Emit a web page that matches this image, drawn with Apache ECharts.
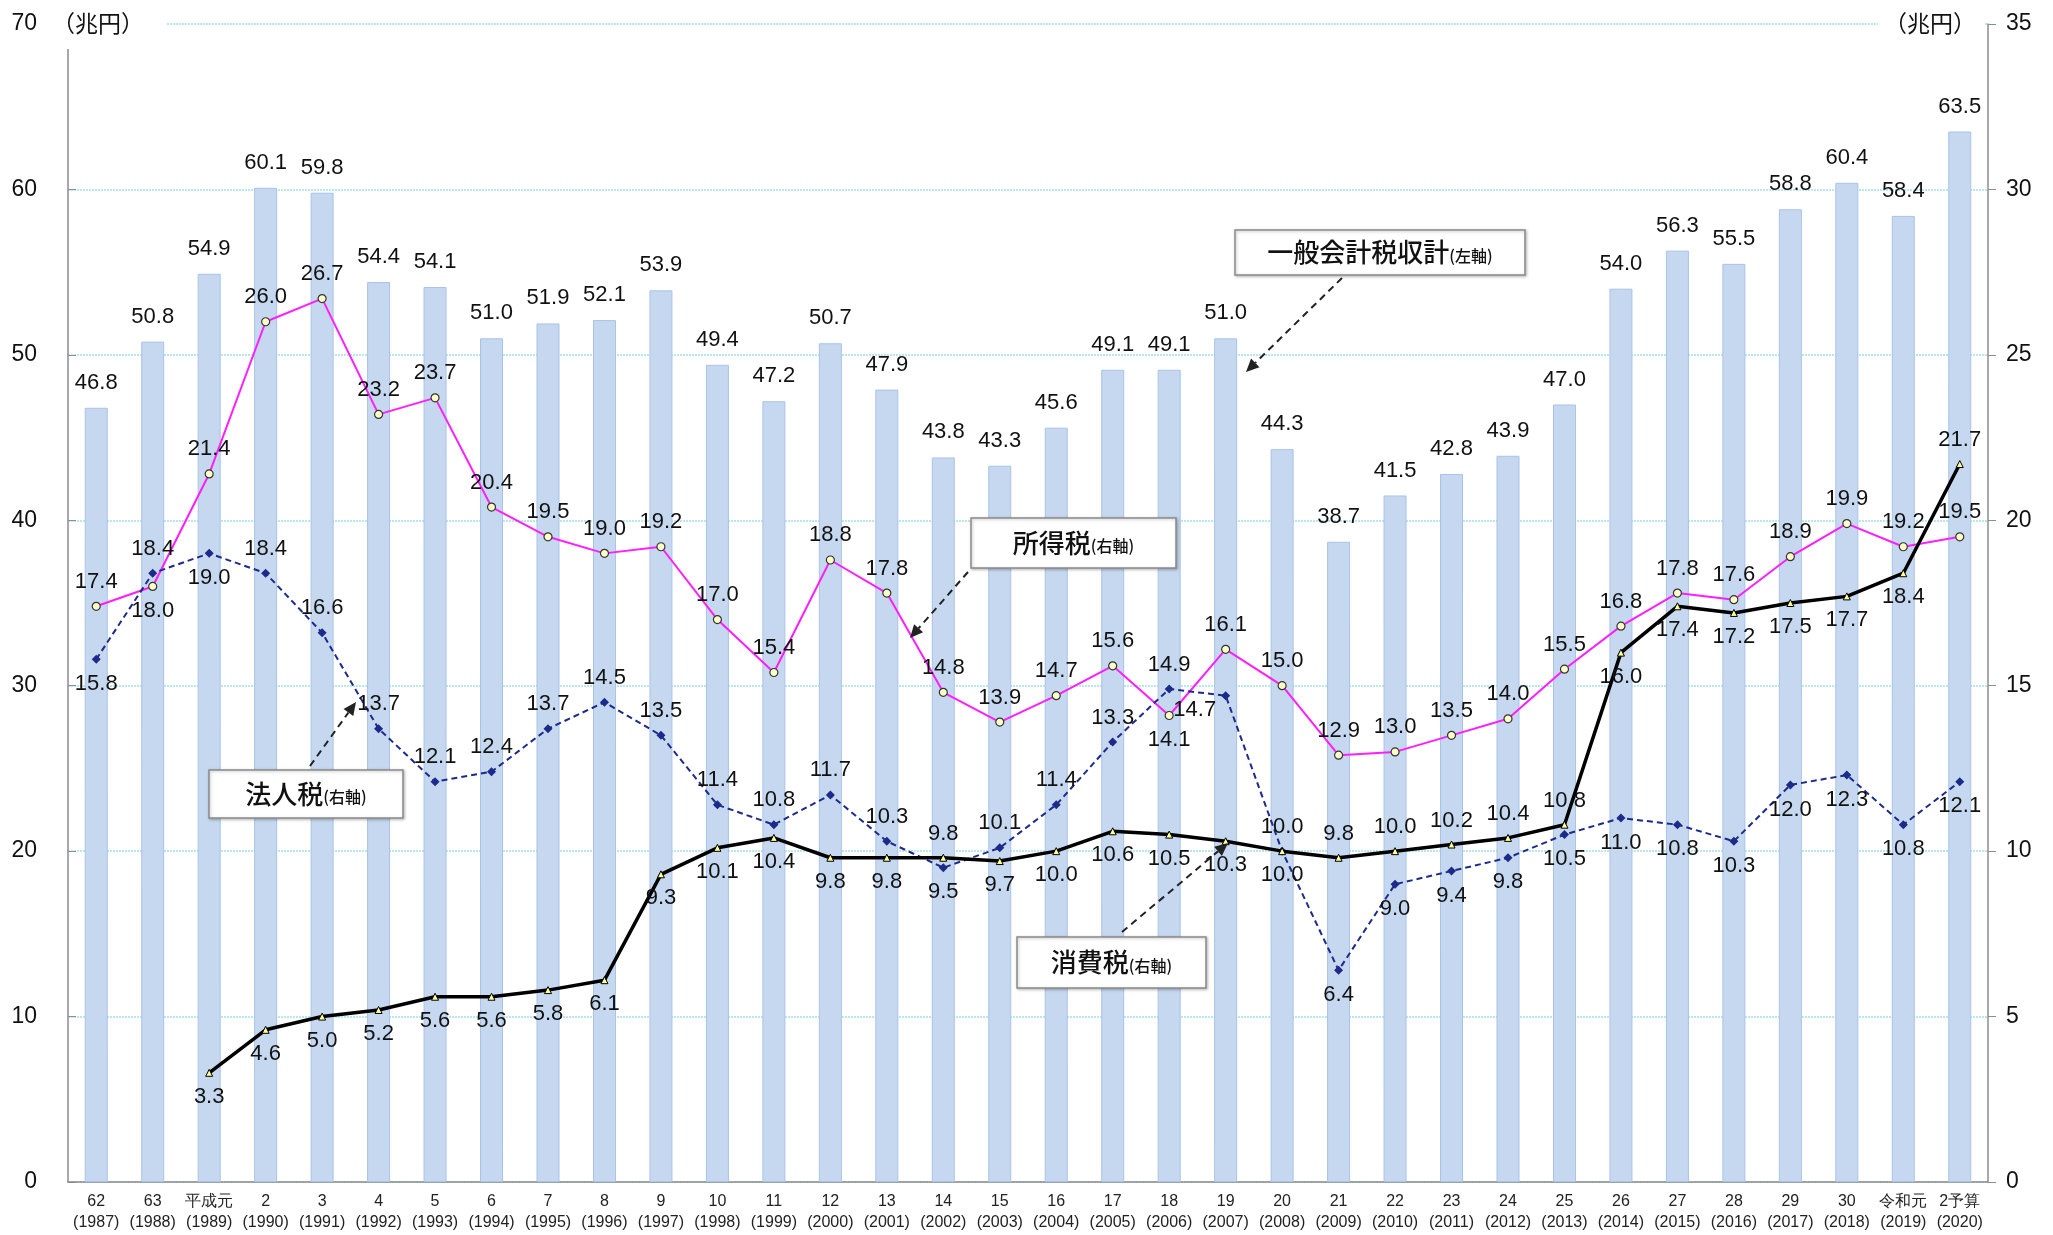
<!DOCTYPE html>
<html>
<head>
<meta charset="utf-8">
<script src="https://cdn.jsdelivr.net/npm/echarts@6/dist/echarts.min.js"></script>
<style>
html,body{margin:0;padding:0;background:#fff}
#main{width:2053px;height:1235px}
</style>
</head>
<body>
<div id="main"></div>
<script>
// 年度ラベル
var eraLabels = ['62','63','平成元','2','3','4','5','6','7','8','9','10','11','12','13','14','15','16','17','18','19','20','21','22','23','24','25','26','27','28','29','30','令和元','2予算'];
var yearLabels = ['1987','1988','1989','1990','1991','1992','1993','1994','1995','1996','1997','1998','1999','2000','2001','2002','2003','2004','2005','2006','2007','2008','2009','2010','2011','2012','2013','2014','2015','2016','2017','2018','2019','2020'];

// 一般会計税収計（左軸）
var totalTax = [46.8,50.8,54.9,60.1,59.8,54.4,54.1,51.0,51.9,52.1,53.9,49.4,47.2,50.7,47.9,43.8,43.3,45.6,49.1,49.1,51.0,44.3,38.7,41.5,42.8,43.9,47.0,54.0,56.3,55.5,58.8,60.4,58.4,63.5];
// 所得税（右軸）
var incomeTax = [17.4,18.0,21.4,26.0,26.7,23.2,23.7,20.4,19.5,19.0,19.2,17.0,15.4,18.8,17.8,14.8,13.9,14.7,15.6,14.1,16.1,15.0,12.9,13.0,13.5,14.0,15.5,16.8,17.8,17.6,18.9,19.9,19.2,19.5];
// 法人税（右軸）
var corpTax = [15.8,18.4,19.0,18.4,16.6,13.7,12.1,12.4,13.7,14.5,13.5,11.4,10.8,11.7,10.3,9.5,10.1,11.4,13.3,14.9,14.7,10.0,6.4,9.0,9.4,9.8,10.5,11.0,10.8,10.3,12.0,12.3,10.8,12.1];
// 消費税（右軸）
var consTax = [null,null,3.3,4.6,5.0,5.2,5.6,5.6,5.8,6.1,9.3,10.1,10.4,9.8,9.8,9.8,9.7,10.0,10.6,10.5,10.3,10.0,9.8,10.0,10.2,10.4,10.8,16.0,17.4,17.2,17.5,17.7,18.4,21.7];

// ラベル位置（見た目用）
var T = 'top', B = 'bottom', L = 'left';
var incomePos = [T,B,T,T,T,T,T,T,T,T,T,T,T,T,T,T,T,T,T,B,T,T,T,T,T,T,T,T,T,T,T,T,T,T];
var corpPos   = [B,T,B,T,T,T,T,T,T,T,T,T,T,T,T,B,T,T,T,T,L,T,B,B,B,B,B,B,B,B,B,B,B,B];
var consPos   = [B,B,B,B,B,B,B,B,B,B,B,B,B,B,B,T,B,B,B,B,B,B,T,T,T,T,T,B,B,B,B,B,B,T];

var numFont = '"Liberation Sans",Arial,sans-serif';
var jpFont = '"Noto Sans CJK JP",sans-serif';

function withPos(values, pos) {
  return values.map(function (v, i) {
    if (v == null) return null;
    var lab = { position: pos[i] };
    if (pos[i] === 'left') lab.offset = [4, 14];
    return { value: v, label: lab };
  });
}

function arrow(x1, y1, x2, y2) {
  var a = Math.atan2(y2 - y1, x2 - x1), len = 13, w = 6;
  var bx = x2 - len * Math.cos(a), by = y2 - len * Math.sin(a);
  return [
    { type: 'line', z: 50, shape: { x1: x1, y1: y1, x2: bx, y2: by }, style: { stroke: '#222', lineWidth: 2, lineDash: [7, 5] } },
    { type: 'polygon', z: 50, shape: { points: [[x2, y2], [bx + w * Math.sin(a), by - w * Math.cos(a)], [bx - w * Math.sin(a), by + w * Math.cos(a)]] }, style: { fill: '#222' } }
  ];
}

function box(x, y, w, h, main, sub) {
  return [
    { type: 'rect', z: 50, shape: { x: x, y: y, width: w, height: h }, style: { fill: '#fff', stroke: '#8a8a8a', lineWidth: 1.5, shadowBlur: 3, shadowColor: 'rgba(0,0,0,0.25)', shadowOffsetX: 1, shadowOffsetY: 1 } },
    { type: 'text', z: 51, x: x + w / 2, y: y + h / 2, style: {
      text: '{a|' + main + '}{b|' + sub + '}', align: 'center', verticalAlign: 'middle',
      rich: { a: { fontFamily: jpFont, fontSize: 26, fill: '#111', fontWeight: 500 }, b: { fontFamily: jpFont, fontSize: 16, fill: '#111', fontWeight: 500, padding: [6, 0, 0, 0] } }
    } }
  ];
}

var myChart = echarts.init(document.getElementById('main'));

var lineLabel = { show: true, fontFamily: numFont, fontSize: 22, color: '#111', distance: 9 };

var option = {
  backgroundColor: '#fff',
  animation: false,
  grid: { left: 68, right: 65, top: 24, bottom: 53 },
  xAxis: {
    type: 'category',
    data: eraLabels,
    axisTick: { show: false },
    axisLine: { lineStyle: { color: '#8c8c8c', width: 1.5 } },
    axisLabel: {
      interval: 0, margin: 9, color: '#222', fontFamily: numFont, fontSize: 16, lineHeight: 21,
      formatter: function (v, i) { return v + '\n(' + yearLabels[i] + ')'; }
    }
  },
  yAxis: [
    {
      type: 'value', min: 0, max: 70, interval: 10,
      axisLine: { show: true, lineStyle: { color: '#8c8c8c', width: 1.5 } },
      axisTick: { show: true, inside: true, length: 8, lineStyle: { color: '#8c8c8c' } },
      axisLabel: { margin: 31, color: '#111', fontFamily: numFont, fontSize: 23 },
      splitLine: { lineStyle: { color: '#a2e0e8', width: 1.5, type: [2, 1] } }
    },
    {
      type: 'value', min: 0, max: 35, interval: 5,
      axisLine: { show: true, lineStyle: { color: '#8c8c8c', width: 1.5 } },
      axisTick: { show: true, length: 8, lineStyle: { color: '#8c8c8c' } },
      axisLabel: { margin: 18, color: '#111', fontFamily: numFont, fontSize: 23 },
      splitLine: { show: false }
    }
  ],
  series: [
    {
      name: '一般会計税収計', type: 'bar', yAxisIndex: 0, data: totalTax, barWidth: 23,
      itemStyle: { color: '#c6d8ef', borderColor: '#a8c3e8', borderWidth: 1 },
      label: { show: true, position: 'top', distance: 14, fontFamily: numFont, fontSize: 22, color: '#111', formatter: function (p) { return p.value.toFixed(1); } }
    },
    {
      name: '所得税', type: 'line', yAxisIndex: 1, data: withPos(incomeTax, incomePos), z: 5,
      lineStyle: { color: '#ff1eff', width: 2 },
      symbol: 'circle', symbolSize: 8,
      itemStyle: { color: '#ffffc8', borderColor: '#333', borderWidth: 1.2 },
      label: Object.assign({}, lineLabel, { formatter: function (p) { return p.value.toFixed(1); } })
    },
    {
      name: '法人税', type: 'line', yAxisIndex: 1, data: withPos(corpTax, corpPos), z: 6,
      lineStyle: { color: '#1c2a8a', width: 2, type: [6, 4] },
      symbol: 'diamond', symbolSize: 9,
      itemStyle: { color: '#1c2a8a' },
      label: Object.assign({}, lineLabel, { formatter: function (p) { return p.value.toFixed(1); } })
    },
    {
      name: '消費税', type: 'line', yAxisIndex: 1, data: withPos(consTax, consPos), z: 7,
      lineStyle: { color: '#000', width: 3.5 },
      symbol: 'triangle', symbolSize: 7,
      itemStyle: { color: '#ffff99', borderColor: '#000', borderWidth: 1 },
      label: Object.assign({}, lineLabel, { formatter: function (p) { return p.value.toFixed(1); } })
    }
  ],
  graphic: [].concat(
    [
      { type: 'text', z: 40, left: 44, top: 6, style: { text: '（兆円）', fontFamily: jpFont, fontSize: 23, fill: '#111', backgroundColor: '#fff', padding: [6, 22, 14, 8] } },
      { type: 'text', z: 40, left: 1878, top: 6, style: { text: '（兆円）', fontFamily: jpFont, fontSize: 23, fill: '#111', backgroundColor: '#fff', padding: [6, 8, 14, 6] } }
    ],
    box(1235, 230, 290, 45, '一般会計税収計', '(左軸)'),
    arrow(1342, 278, 1246, 372),
    box(971, 518, 205, 50, '所得税', '(右軸)'),
    arrow(968, 572, 910, 638),
    box(209, 770, 194, 48, '法人税', '(右軸)'),
    arrow(310, 766, 356, 702),
    box(1017, 937, 189, 51, '消費税', '(右軸)'),
    arrow(1122, 932, 1228, 843)
  )
};

myChart.setOption(option);
</script>
</body>
</html>
